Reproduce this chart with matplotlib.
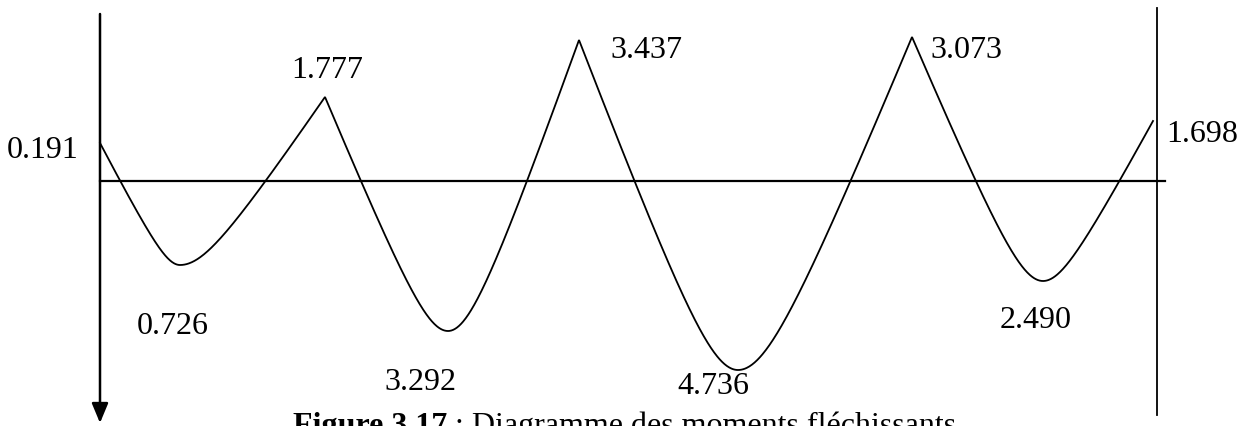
import numpy as np
import matplotlib
matplotlib.use("Agg")
import matplotlib.pyplot as plt

plt.rcParams['font.family'] = ['Liberation Serif', 'DejaVu Serif']

# moments at supports (drawn above the axis) and in spans (drawn below)
support_x = [0, 225, 479, 812, 1053]
support_h = [38, 84, 141, 144, 60]
support_lbl = ["0.191", "1.777", "3.437", "3.073", "1.698"]

span_x = [80, 348, 638, 943]
span_h = [84, 150, 189, 100]
span_lbl = ["0.726", "3.292", "4.736", "2.490"]

caption_bold = "Figure 3.17"
caption_rest = " : Diagramme des moments fléchissants"

fig = plt.figure(figsize=(12.49, 4.26), dpi=100)
ax = fig.add_axes([0, 0, 1, 1])
ax.set_xlim(-100, 1149)
ax.set_ylim(-245, 181)
ax.axis('off')


def half(x0, y0, x1, y1, c=0.25):
    # rounded at the trough (x0, y0), nearly straight towards the support
    u = np.linspace(0, 1, 200)
    f = (np.sqrt(u**2 + c**2) - c) / (np.sqrt(1 + c**2) - c)
    return x0 + (x1 - x0) * u, y0 + (y1 - y0) * f


xs, ys = [], []
for i in range(len(span_x)):
    xa, ya = half(span_x[i], -span_h[i], support_x[i], support_h[i])
    xb, yb = half(span_x[i], -span_h[i], support_x[i + 1], support_h[i + 1])
    xs += list(xa[::-1]) + list(xb[1:])
    ys += list(ya[::-1]) + list(yb[1:])
ax.plot(xs, ys, color='black', lw=1.3, solid_joinstyle='miter')

# baseline, right support line, left axis with arrow
ax.plot([0, 1065], [0, 0], color='black', lw=1.6)
ax.plot([1057, 1057], [173, -234], color='black', lw=1.3)
ax.annotate('', xy=(0, -242), xytext=(0, 167),
            arrowprops=dict(arrowstyle='-|>,head_width=0.25,head_length=0.6',
                            mutation_scale=20, lw=1.8, color='black',
                            shrinkA=0, shrinkB=0))

# labels
fs = 23
sup_off = [(-22, -7, 'right'), (2, 26, 'center'), (31, -11, 'left'),
           (18, -14, 'left'), (13, -14, 'left')]
for x, h, s, (dx, dy, ha) in zip(support_x, support_h, support_lbl, sup_off):
    ax.annotate(s, (x, h), xytext=(dx, dy), textcoords='offset pixels',
                ha=ha, va='center', fontsize=fs)

span_off = [(-7, -61), (-28, -52), (-25, -17), (-7, -39)]
for x, h, s, (dx, dy) in zip(span_x, span_h, span_lbl, span_off):
    ax.annotate(s, (x, -h), xytext=(dx, dy), textcoords='offset pixels',
                ha='center', va='center', fontsize=fs)

# caption, cut by the lower edge as in the original
t1 = fig.text(293 / 1249, -8 / 426, caption_bold, fontsize=fs,
              fontweight='bold', va='baseline', ha='left')
fig.canvas.draw()
bb = t1.get_window_extent()
fig.text(bb.x1 / fig.bbox.width, -8 / 426, caption_rest, fontsize=fs,
         va='baseline', ha='left')

fig.savefig('out.png', dpi=100)
